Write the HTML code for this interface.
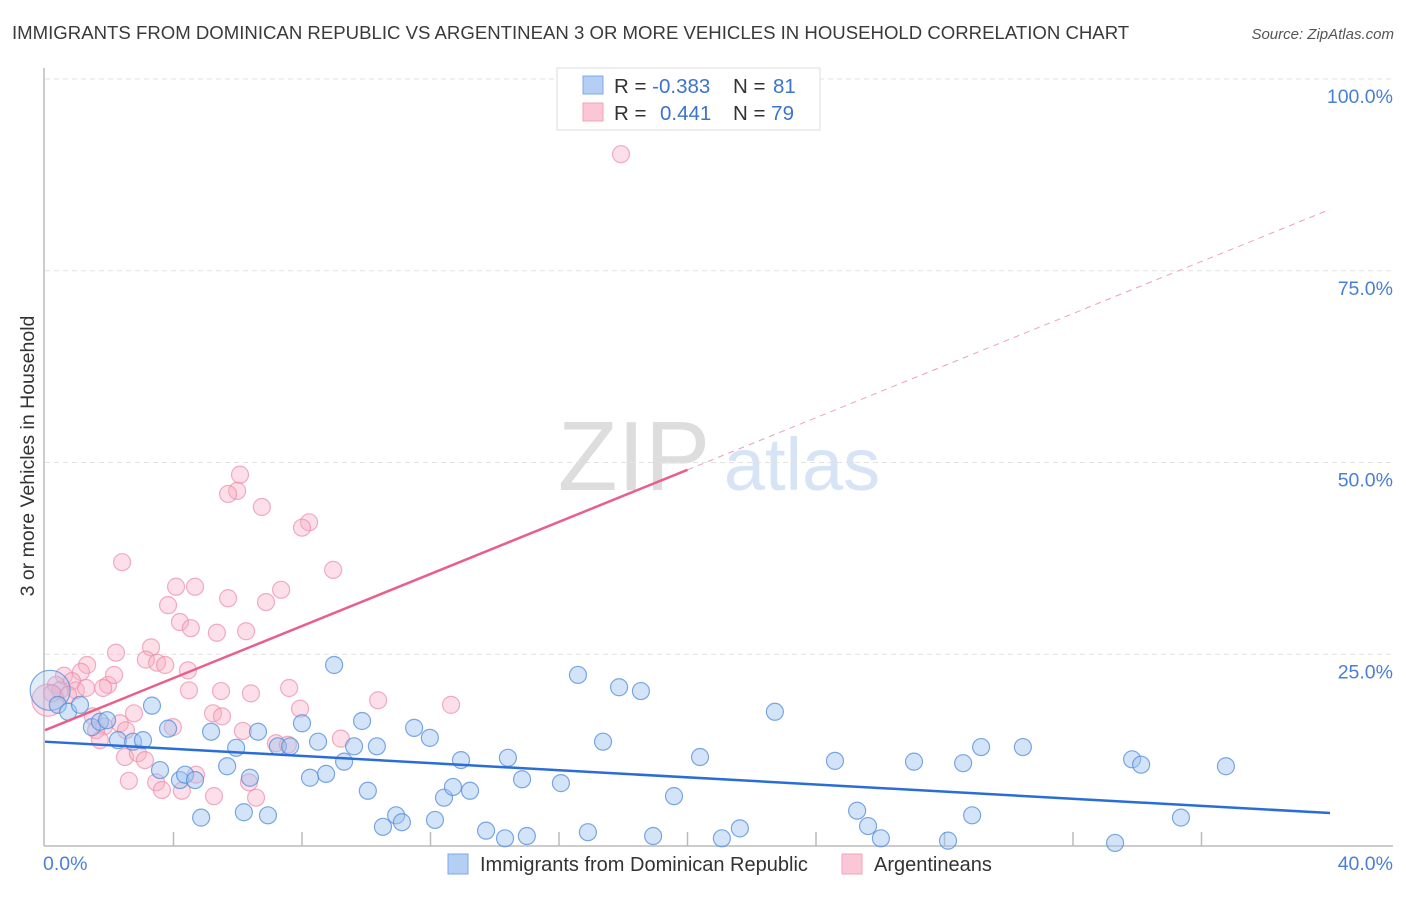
<!DOCTYPE html>
<html><head><meta charset="utf-8"><style>
body{margin:0;background:#fff;font-family:"Liberation Sans",sans-serif;}
svg text{font-family:"Liberation Sans",sans-serif;}
</style></head><body>
<svg id="chart" width="1406" height="892" viewBox="0 0 1406 892" xmlns="http://www.w3.org/2000/svg">
<text x="12" y="39" font-size="18.6" fill="#3a3a3a">IMMIGRANTS FROM DOMINICAN REPUBLIC VS ARGENTINEAN 3 OR MORE VEHICLES IN HOUSEHOLD CORRELATION CHART</text>
<text x="1394" y="39" font-size="15" fill="#555" font-style="italic" text-anchor="end">Source: ZipAtlas.com</text>
<g>
<text x="634" y="490" font-size="98" fill="#ddd" font-family="Liberation Serif" text-anchor="middle">ZIP</text>
<text x="802" y="490" font-size="74" fill="#d6e4f6" text-anchor="middle">atlas</text>
</g>
<g id="grid"></g>
<g id="axes"></g>
<g id="points"></g>
<g id="lines"></g>
<text transform="translate(34,456) rotate(-90)" font-size="19.5" fill="#333" text-anchor="middle">3 or more Vehicles in Household</text>
<g>
<rect x="557" y="68" width="263" height="62" fill="#fff" stroke="#ddd"/>
<rect x="583" y="76" width="20" height="18" fill="#b4cff3" stroke="#7fa8e6"/>
<rect x="583" y="103" width="20" height="18" fill="#fbc6d6" stroke="#f0a3bb"/>
<text x="614" y="93" font-size="20.5" fill="#333">R = <tspan fill="#3b73cf">-0.383</tspan><tspan x="733">N = </tspan><tspan fill="#3b73cf" x="773">81</tspan></text>
<text x="614" y="120" font-size="20.5" fill="#333">R = <tspan fill="#3b73cf" x="660">0.441</tspan><tspan x="733">N = </tspan><tspan fill="#3b73cf">79</tspan></text>
</g>
<g>
<rect x="448" y="854" width="20" height="20" fill="#b4cff3" stroke="#7fa8e6"/>
<text x="480" y="871" font-size="20" fill="#333">Immigrants from Dominican Republic</text>
<rect x="842" y="854" width="20" height="20" fill="#fbc6d6" stroke="#f0a3bb"/>
<text x="874" y="871" font-size="20" fill="#333">Argentineans</text>
</g>
</svg>
<script>
const blueX=[0.16,0.40,0.72,1.09,1.46,1.71,1.93,2.27,2.74,3.05,3.33,3.58,3.83,4.20,4.36,4.67,4.86,5.17,5.67,5.95,6.19,6.38,6.63,6.94,7.25,7.63,8.00,8.25,8.50,8.75,9.00,9.31,9.62,9.87,10.05,10.33,10.52,10.93,11.11,11.49,11.98,12.14,12.42,12.70,12.95,13.23,13.73,14.32,14.41,14.85,15.00,16.06,16.59,16.90,17.37,17.87,18.55,18.93,19.58,20.39,21.07,21.63,22.72,24.59,25.28,25.62,26.02,27.05,28.11,28.58,28.86,29.14,30.44,33.31,33.84,34.12,35.36,36.76];
const blueY=[20.3,18.4,17.5,18.4,15.5,16.2,16.4,13.8,13.6,13.8,18.3,9.9,15.3,8.6,9.3,8.6,3.7,14.9,10.4,12.8,4.4,8.9,14.9,4.0,13.0,13.0,16.0,8.9,13.6,9.4,23.6,11.0,13.0,16.3,7.2,13.0,2.5,4.0,3.1,15.4,14.1,3.4,6.3,7.7,11.2,7.2,2.0,1.0,11.5,8.7,1.3,8.2,22.3,1.8,13.6,20.7,20.2,1.3,6.5,11.6,1.0,2.3,17.5,11.1,4.6,2.6,1.0,11.0,0.7,10.8,4.0,12.9,12.9,0.4,11.3,10.6,3.7,10.4];
const pinkX=[17.93,6.07,5.98,5.70,6.75,8.22,8.00,8.97,2.40,4.08,4.67,3.83,7.35,5.70,6.88,4.20,4.54,5.35,6.26,3.30,2.21,3.14,3.49,3.74,1.31,0.59,1.12,0.84,0.34,0.47,0.96,0.72,1.28,1.96,1.81,2.15,4.45,4.48,5.48,6.41,7.60,10.37,12.64,7.94,5.23,5.51,2.77,1.49,2.33,1.84,2.52,3.98,6.16,7.19,7.56,9.21,2.49,2.89,3.11,2.61,3.46,3.64,4.26,4.70,5.26,6.35,6.57,1.59,1.71,0.09,0.22];
const pinkY=[90.2,48.4,46.3,45.9,44.2,42.2,41.5,36.0,37.0,33.8,33.8,31.4,33.4,32.3,31.8,29.2,28.4,27.8,28.0,25.9,25.2,24.3,23.9,23.6,23.6,22.2,22.7,21.5,21.0,20.3,20.3,19.7,20.6,21.0,20.6,22.3,22.9,20.3,20.2,19.9,20.6,19.0,18.4,17.9,17.3,16.9,17.3,16.9,16.0,15.6,15.1,15.5,15.0,13.4,13.2,14.0,11.6,12.1,11.2,8.5,8.3,7.3,7.2,9.3,6.5,8.3,6.3,15.1,13.8,19.0,19.9];
const yTicks=[25,50,75,100];
const yTickLabels=["25.0%","50.0%","75.0%","100.0%"];
const xTicks=[4,8,12,16,20,24,28,32,36];
const blueTrend=[13.6,4.3];
const pinkTrend=[15.1,83.0];
const NS="http://www.w3.org/2000/svg";
const X0=45,X1=1330,Y0=846,Y1=79;
const sx=v=>X0+(v/40)*(X1-X0);
const sy=v=>Y0-(v/100)*(Y0-Y1);
function mk(tag,attrs,parent){const e=document.createElementNS(NS,tag);for(const k in attrs)e.setAttribute(k,attrs[k]);document.getElementById(parent).appendChild(e);return e;}
yTicks.forEach((t,i)=>{
 const l=mk('line',{x1:X0,x2:1393,y1:sy(t),y2:sy(t),stroke:'#e2e2e2','stroke-dasharray':'5,4'},'grid');
 
 
 const tx=mk('text',{x:1393,y:sy(t)+24,'font-size':19.5,fill:'#4a7fd6','text-anchor':'end'},'grid');
 tx.textContent=yTickLabels[i];
 
 
});
let ax=mk('line',{x1:X0-1,x2:X0-1,y1:68,y2:Y0,stroke:'#bbb','stroke-width':1.5},'axes');


let bx=mk('line',{x1:X0-1,x2:1393,y1:Y0,y2:Y0,stroke:'#bbb','stroke-width':1.5},'axes');


xTicks.forEach(t=>{
 const l=mk('line',{x1:sx(t),x2:sx(t),y1:Y0-14,y2:Y0,stroke:'#bbb','stroke-width':1.5},'axes');
 
 
});
let xl=mk('text',{x:X0-2,y:870,'font-size':19.5,fill:'#4a7fd6'},'axes');xl.textContent='0.0%';


let xr=mk('text',{x:1393,y:870,'font-size':19.5,fill:'#4a7fd6','text-anchor':'end'},'axes');xr.textContent='40.0%';


pinkX.forEach((x,i)=>{
 const c=mk('circle',{cx:sx(x),cy:sy(pinkY[i]),r:(i===pinkX.length-2?16:8.5),fill:'rgba(248,176,198,0.4)',stroke:'rgba(236,140,170,0.7)','stroke-width':1.2},'points');
 
 
});
blueX.forEach((x,i)=>{
 const c=mk('circle',{cx:sx(x),cy:sy(blueY[i]),r:(i===0?20:8.5),fill:(i===0?'rgba(160,196,240,0.3)':'rgba(160,196,240,0.45)'),stroke:'rgba(80,140,220,0.75)','stroke-width':1.2},'points');
 
 
});
let bl=mk('line',{x1:sx(0),y1:sy(blueTrend[0]),x2:sx(40),y2:sy(blueTrend[1]),stroke:'#2a6dd9','stroke-width':2.5},'lines');


const pm=pinkTrend[0]+(pinkTrend[1]-pinkTrend[0])*0.5;
let pl=mk('line',{x1:sx(0),y1:sy(pinkTrend[0]),x2:sx(20),y2:sy(pm),stroke:'#e8608a','stroke-width':2.5},'lines');


let pd=mk('line',{x1:sx(20),y1:sy(pm),x2:sx(40),y2:sy(pinkTrend[1]),stroke:'#eea0b8','stroke-width':1,'stroke-dasharray':'6,5'},'lines');


</script>
</body></html>
